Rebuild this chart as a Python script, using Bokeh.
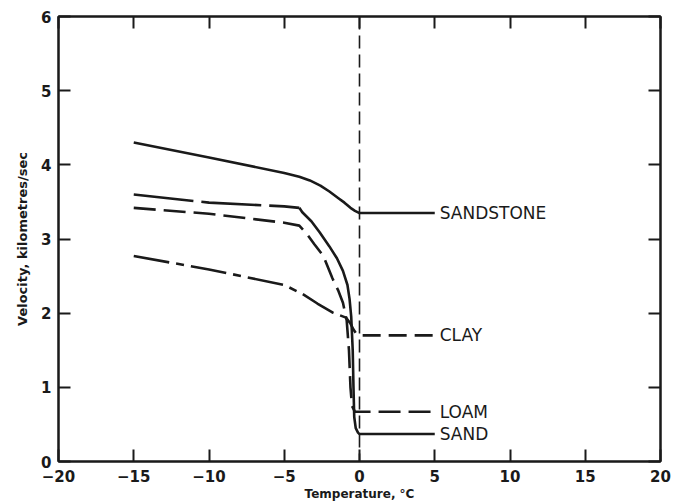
from bokeh.plotting import figure
from bokeh.models import LinearAxis, FixedTicker, Span
from bokeh.core.properties import value
from bokeh.embed import file_html
from bokeh.resources import INLINE

# Seismic velocity vs temperature for frozen/unfrozen materials
sandstone_t = [-15, -10, -5, -4, -3.3, -2.6, -2, -1.4, -1, -0.6, -0.3, 0, 5]
sandstone_v = [4.30, 4.10, 3.89, 3.84, 3.79, 3.72, 3.64, 3.55, 3.49, 3.42, 3.38, 3.35, 3.35]

sand_t = [-15, -10, -5, -4, -3.8, -3.2, -2.65, -2, -1.5, -1.1, -0.8, -0.66, -0.55,
          -0.45, -0.4, -0.35, -0.25, -0.1, 0, 5]
sand_v = [3.60, 3.49, 3.44, 3.42, 3.36, 3.24, 3.09, 2.90, 2.74, 2.57, 2.38, 2.19, 1.95,
          1.5, 1.0, 0.6, 0.45, 0.39, 0.37, 0.37]

loam_t = [-15, -10, -5, -4, -3.5, -3.0, -2.4, -1.8, -1.4, -1.1, -0.85, -0.7, -0.6,
          -0.5, -0.3, 0, 5]
loam_v = [3.42, 3.34, 3.22, 3.18, 3.07, 2.93, 2.77, 2.47, 2.30, 2.14, 1.9, 1.5, 1.0,
          0.75, 0.67, 0.67, 0.67]

clay_t = [-15, -10, -5, -3.8, -2.8, -1.8, -0.9, -0.6, -0.4, -0.2, 0, 5]
clay_v = [2.77, 2.59, 2.38, 2.26, 2.13, 2.01, 1.94, 1.86, 1.78, 1.72, 1.70, 1.70]

label_names = ["SANDSTONE", "CLAY", "LOAM", "SAND"]
label_v = [sandstone_v[-1], clay_v[-1], loam_v[-1], sand_v[-1]]
label_t = [5, 5, 5, 5]

x_ticks = [-20, -15, -10, -5, 0, 5, 10, 15, 20]
y_ticks = [0, 1, 2, 3, 4, 5, 6]

p = figure(width=673, height=503, x_range=(-20, 20), y_range=(0, 6),
           output_backend="svg", toolbar_location=None,
           min_border_left=58, min_border_right=13,
           min_border_top=16, min_border_bottom=40)
p.grid.visible = False
p.outline_line_color = "#111111"
p.outline_line_width = 2
p.background_fill_color = "white"
p.border_fill_color = "white"

ink = "#1a1a1a"

def style_axis(ax, labels=True):
    ax.axis_line_color = ink
    ax.axis_line_width = 2
    ax.major_tick_line_color = ink
    ax.major_tick_line_width = 2
    ax.major_tick_in = 12
    ax.major_tick_out = 0
    ax.minor_tick_line_color = None
    if labels:
        ax.major_label_text_font = "DejaVu Sans"
        ax.major_label_text_font_size = "15px"
        ax.major_label_text_font_style = "bold"
        ax.major_label_text_color = ink
    else:
        ax.major_label_text_color = None

p.xaxis.ticker = FixedTicker(ticks=x_ticks)
p.yaxis.ticker = FixedTicker(ticks=y_ticks)
style_axis(p.xaxis[0])
style_axis(p.yaxis[0])
p.xaxis.major_label_standoff = 8
p.yaxis.major_label_standoff = 7

p.xaxis.axis_label = "Temperature, °C"
p.yaxis.axis_label = "Velocity, kilometres/sec"
for ax in (p.xaxis[0], p.yaxis[0]):
    ax.axis_label_text_font = "DejaVu Sans"
    ax.axis_label_text_font_style = "bold"
    ax.axis_label_text_color = ink
p.xaxis.axis_label_text_font_size = "12px"
p.yaxis.axis_label_text_font_size = "13px"
p.xaxis.axis_label_standoff = 2
p.yaxis.axis_label_standoff = 8

top = LinearAxis(ticker=FixedTicker(ticks=x_ticks))
style_axis(top, labels=False)
p.add_layout(top, "above")
right = LinearAxis(ticker=FixedTicker(ticks=y_ticks))
style_axis(right, labels=False)
p.add_layout(right, "right")

# freezing point
p.add_layout(Span(location=0, dimension="height", line_color=ink,
                  line_width=1.6, line_dash="13 6"))

lw = 2.6
p.line(sandstone_t, sandstone_v, line_color=ink, line_width=lw)

# sand: long dashes in the frozen range, solid through the thaw
p.line(sand_t[:4], sand_v[:4], line_color=ink, line_width=lw, line_dash="60 8")
p.line(sand_t[3:], sand_v[3:], line_color=ink, line_width=lw)

p.line(loam_t, loam_v, line_color=ink, line_width=lw, line_dash="22 8")

# clay: dash-dot below freezing, dashed above
p.line(clay_t[:7], clay_v[:7], line_color=ink, line_width=lw, line_dash="36 7 8 7")
p.line(clay_t[6:], clay_v[6:], line_color=ink, line_width=lw, line_dash="18 8")

p.text(x=label_t, y=label_v, text=label_names, x_offset=5,
       text_baseline="middle", text_align="left",
       text_font=value("DejaVu Sans"), text_font_size="17px",
       text_color=ink)

open("out.html", "w").write(file_html(p, INLINE))
